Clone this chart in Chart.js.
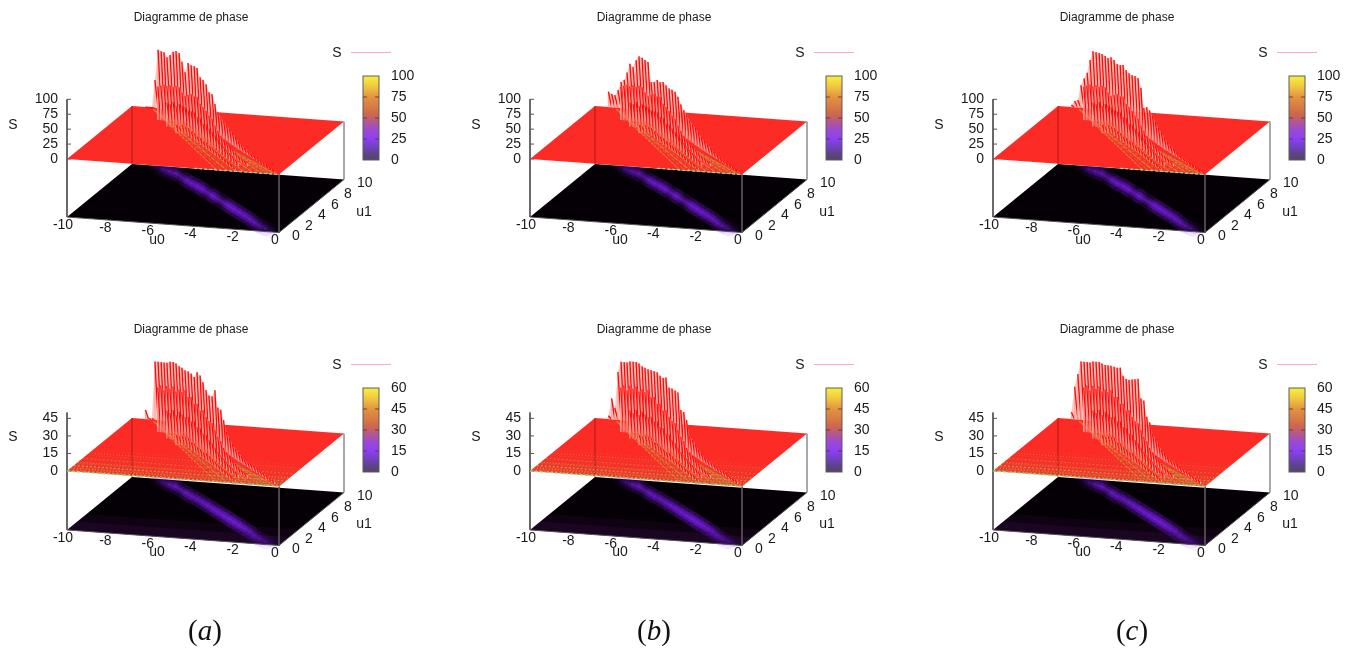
<!DOCTYPE html>
<html>
<head>
<meta charset="utf-8">
<title>Diagramme de phase</title>
<script src="https://cdn.jsdelivr.net/npm/chart.js@4"></script>
<style>
  html, body { margin: 0; padding: 0; background: #fff; overflow: hidden; }
  #page { position: relative; width: 1358px; height: 648px; overflow: hidden; }
  #page canvas { position: absolute; filter: blur(0.6px); }
  .caption { position: absolute; top: 614px; width: 60px; text-align: center; font: 29px "Liberation Serif", serif; color: #111; }
</style>
</head>
<body>
<div id="page"></div>
<script>
// positions of the tall row of spikes, back of the ridge
const backU0 = [-9.35,-9.2,-9.05,-8.9,-8.75,-8.6,-8.46,-8.32,-8.17,-8.02,-7.88,-7.73,-7.59,-7.44,-7.19,-6.94,-6.69,-6.45,-6.2,-5.97,-5.73,-5.5,-5.26,-5.03,-4.79,-4.55,-4.31,-4.07,-3.83,-3.59,-3.35,-3.11,-2.88,-2.65,-2.41,-2.18,-1.95,-1.71,-1.48,-1.25,-1.02,-0.78,-0.55,-0.32];
const backU1 = [9.95,9.95,9.95,9.94,9.93,9.92,9.9,9.89,9.88,9.87,9.85,9.84,9.82,9.8,9.46,9.11,8.77,8.42,8.08,7.77,7.46,7.16,6.85,6.54,6.2,5.87,5.53,5.2,4.86,4.53,4.19,3.86,3.57,3.28,2.99,2.7,2.41,2.12,1.83,1.54,1.25,0.96,0.67,0.38];

// S
const topA = [0,0,0,47,98,96,95,87,91,97,99,96,82,65,84,84,86,87,75,74,70,60,60,47,37,32,29,26,23,20,17,13,10,9,7,5,5,4,4,3,3,2,2,1];
const topB = [26,23,21,30,44,48,61,76,71,83,90,88,85,82,52,56,63,63,67,65,63,64,64,59,50,44,39,34,31,28,25,20,17,14,12,8,7,5,4,4,3,3,2,1];
const topC = [4,11,13,38,50,60,82,97,96,95,94,91,88,90,89,86,88,92,87,85,85,87,87,74,44,49,47,41,35,28,25,20,15,12,10,7,5,5,4,4,3,3,2,1];
const bottomA = [8,1,1,50,50,50,50,50,51,51,50,48,47,45,46,46,45,51,50,46,41,38,39,46,33,33,26,18,14,11,9,8,6,4,4,4,4,4,3,3,3,2,2,2];
const bottomB = [3,18,10,41,50,50,50,51,51,51,50,48,47,46,47,48,49,48,48,50,43,44,44,44,31,31,26,14,13,11,8,7,5,4,4,4,3,3,3,3,2,2,2,2];
const bottomC = [6,28,39,50,50,50,50,51,51,51,50,49,49,49,50,51,53,48,47,48,50,52,54,39,39,27,24,16,14,11,8,7,5,4,4,4,3,3,3,3,2,2,2,2];

// middle row of spikes
const midU0 = [-8.14,-8,-7.85,-7.71,-7.56,-7.41,-7.27,-7.12,-6.98,-6.83,-6.58,-6.33,-6.08,-5.84,-5.59,-5.36,-5.12,-4.89,-4.65,-4.42,-4.18,-3.94,-3.7,-3.46,-3.22,-2.98,-2.74,-2.5,-2.27,-2.04,-1.8];
const midU1 = [7.9,7.9,7.9,7.88,7.87,7.86,7.85,7.84,7.82,7.8,7.46,7.11,6.77,6.42,6.08,5.77,5.46,5.16,4.85,4.54,4.2,3.87,3.53,3.2,2.86,2.53,2.19,1.86,1.57,1.28,0.99];
const midTop = [56,58,60,58,60,58,60,58,50,45,50,55,55,58,50,48,45,40,38,30,25,20,18,16,14,12,10,8,7,6,5];
const midBottom = [38,40,36,40,38,40,36,38,36,38,34,36,32,34,30,32,28,26,26,22,18,16,12,10,9,7,6,5,4,3,3];

// row between the middle and the low one
const innerU0 = [-7.4,-7.25,-7.1,-6.96,-6.81,-6.67,-6.52,-6.27,-6.02,-5.77,-5.53,-5.28,-5.05,-4.81,-4.58,-4.34,-4.11,-3.87,-3.63,-3.39,-3.15,-2.91,-2.67,-2.43,-2.19];
const innerU1 = [6.89,6.88,6.87,6.85,6.84,6.82,6.8,6.46,6.11,5.77,5.42,5.08,4.77,4.46,4.16,3.85,3.54,3.2,2.87,2.53,2.2,1.86,1.53,1.19,0.86];
const innerTop = [40,38,42,36,40,38,36,34,36,38,34,36,30,32,28,26,24,22,18,16,14,12,10,8,6];
const innerBottom = [24,22,25,21,24,22,20,22,20,22,19,20,17,18,15,14,12,10,9,8,7,6,5,4,3];

// low row of spikes in front
const lowU0 = [-6.65,-6.5,-6.36,-6.21,-5.96,-5.71,-5.46,-5.22,-4.97,-4.74,-4.5,-4.27,-4.03,-3.8,-3.56,-3.32,-3.08,-2.84,-2.6,-2.36,-2.12];
const lowU1 = [5.85,5.82,5.8,5.8,5.46,5.11,4.77,4.42,4.08,3.77,3.46,3.16,2.85,2.54,2.2,1.87,1.53,1.2,0.86,0.53,0.19];
const lowTop = [14,12,15,13,14,12,13,11,12,10,11,9,9,8,7,6,5,5,4,3,3];
const lowBottom = [9,8,9,8,9,7,8,7,7,6,7,6,5,5,4,4,3,3,3,2,2];

// map on the floor
const heatU0 = [-8.8,-8.4,-8,-7.6,-7.2,-6.8,-6.4,-6,-5.6,-5.2,-4.8,-4.4,-4,-3.6,-3.2,-2.8,-2.4,-2,-1.6,-1.2,-0.8,-0.4];
const heatU1 = [9.9,9.5,9.2,8.9,8.4,7.9,7.4,7,6.5,6,5.5,5,4.5,4,3.5,3,2.5,2,1.4,0.9,0.5,0.2];
const heatTop = [0.25,0.4,0.5,0.6,0.6,0.65,0.7,0.75,0.8,0.8,0.85,0.85,0.85,0.8,0.75,0.7,0.65,0.6,0.5,0.35,0.25,0.15];
const heatBottom = [0.2,0.35,0.55,0.7,0.7,0.6,0.55,0.6,0.65,0.7,0.75,0.8,0.85,0.9,0.85,0.75,0.6,0.5,0.4,0.3,0.2,0.1];

// brown streaks on the flat part
const fanStartU0 = [-8.9,-8.8,-8.7,-8.5,-8.3,-8.1,-7.8,-7.5,-7.2,-6.9,-6.5,-6.1,-5.6,-5.1,-4.5,-3.8];
const fanStartU1 = [9.7,9.6,9.4,9.2,9.1,8.9,8.6,8.3,8,7.7,7.2,6.8,6.2,5.6,4.9,4.1];
const fanEndU0 = [-3,-2.75,-2.5,-2.3,-2.1,-1.9,-1.7,-1.5,-1.3,-1.1,-0.9,-0.7,-0.55,-0.4,-0.25,-0.1];
const noiseU1 = [0.08,0.2,0.32,0.45,0.6,0.75,0.9,1.05,1.25,1.45,1.65,1.9,2.15,2.4,2.7,3,3.4,3.9];

// axes
const u0Ticks = [-10,-8,-6,-4,-2,0];
const u1Ticks = [0,2,4,6,8,10];
const sTicksTop = [0,25,50,75,100];
const sTicksBottom = [0,15,30,45];
const barTicksTop = [0,25,50,75,100];
const barTicksBottom = [0,15,30,45,60];
const captions = ["a","b","c"];

const panelW = 432, panelH = 312, stepX = 463, stepY = 312;
const font = '"Liberation Sans", Arial, sans-serif';

// gnuplot view, reduced to three screen vectors
function project(u0, u1, s, k) {
  return {
    x: 67 + (u0 + 10) * 21.2 + u1 * 6.5,
    y: 159 + (u0 + 10) * 1.55 - u1 * 5.3 - s * k
  };
}

function spikeLine(u0s, u1s, ss, k, width) {
  const pts = [];
  u0s.forEach((u, i) => {
    pts.push(project(u, u1s[i], 0, k));
    pts.push(project(u, u1s[i], ss[i], k));
  });
  return {
    data: pts, showLine: true, pointRadius: 0, tension: 0, borderWidth: width, borderColor: "#ff1010",
    segment: { borderColor: c => c.p0DataIndex % 2 ? "#ff0808" : "rgba(255,170,160,0.95)" }
  };
}

// pale sheet behind a row of spikes
function spikeSheet(u0s, u1s, ss, k, color) {
  const tips = u0s.map((u, i) => project(u, u1s[i], ss[i], k));
  const feet = u0s.map((u, i) => project(u, u1s[i], 0, k)).reverse();
  return shapeSet(tips.concat(feet), color);
}

function lineSet(pts, color, width, dash) {
  return { data: pts, showLine: true, pointRadius: 0, tension: 0, borderWidth: width, borderColor: color, borderDash: dash || [] };
}

function shapeSet(pts, color) {
  return { data: pts, showLine: true, pointRadius: 0, tension: 0, borderWidth: 0, borderColor: color, backgroundColor: color, fill: "shape" };
}

function makePanel(col, row, tops) {
  const isTop = row === 0;
  const k = isTop ? 0.597 : 1.17;
  const floorS = isTop ? -97.2 : -50.4;
  const sMax = isTop ? 100 : 50;
  const barMax = isTop ? 100 : 60;
  const sTicks = isTop ? sTicksTop : sTicksBottom;
  const barTicks = isTop ? barTicksTop : barTicksBottom;
  const heat = isTop ? heatTop : heatBottom;
  const P = (a, b, s) => project(a, b, s, k);
  const barY = v => 160 - v / barMax * 84;

  const canvas = document.createElement("canvas");
  canvas.width = panelW; canvas.height = panelH;
  canvas.style.left = col * stepX + "px";
  canvas.style.top = row * stepY + "px";
  document.getElementById("page").appendChild(canvas);
  const ctx = canvas.getContext("2d");

  const grad = ctx.createLinearGradient(0, 160, 0, 76);
  [[0,"#544560"],[0.08,"#5e4290"],[0.25,"#8a3ff8"],[0.38,"#9f4cc8"],[0.47,"#b85a80"],[0.56,"#cf6a48"],[0.75,"#e29440"],[0.9,"#f2d040"],[1,"#f8f03c"]]
    .forEach(s => grad.addColorStop(s[0], s[1]));

  const sets = [];
  // floor
  sets.push(shapeSet([P(-10,0,floorS),P(0,0,floorS),P(0,10,floorS),P(-10,10,floorS)], "#050005"));
  if (!isTop) {
    sets.push(shapeSet([P(-10,0,floorS),P(0,0,floorS),P(0,3,floorS),P(-10,3,floorS)], "rgba(70,20,90,0.16)"));
    sets.push(shapeSet([P(-10,0,floorS),P(0,0,floorS),P(0,1.6,floorS),P(-10,1.6,floorS)], "rgba(70,20,90,0.22)"));
  }
  const heatPts = heatU0.map((u, i) => P(u, heatU1[i], floorS));
  [[15,0.2],[8,0.35],[3,0.55]].forEach(w => {
    const s = lineSet(heatPts, "#7a1ee0", w[0]);
    s.borderCapStyle = "round";
    s.segment = { borderColor: c => "rgba(118,30,225," + heat[c.p0DataIndex] * w[1] + ")" };
    sets.push(s);
  });

  // box edges
  const edge = "#555555";
  sets.push(lineSet([P(-10,0,sMax),P(-10,0,floorS),P(0,0,floorS)], edge, 1));
  sets.push(lineSet([P(0,0,0),P(0,0,floorS),P(0,10,floorS),P(0,10,0)], edge, 1));
  sTicks.forEach(t => sets.push(lineSet([P(-10,0,t), {x: P(-10,0,t).x + 4, y: P(-10,0,t).y}], edge, 1)));

  // red surface
  sets.push(shapeSet([P(-10,0,0),P(0,0,0),P(0,10,0),P(-10,10,0)], "#fd2b26"));
  sets.push(lineSet([P(-10,10,0),P(-10,10,floorS)], "rgba(150,20,20,0.3)", 1));

  fanStartU0.forEach((u, i) => {
    sets.push(lineSet([P(u, fanStartU1[i], 0), P(fanEndU0[i], 0.1, 0)], i % 2 ? "rgba(180,120,40,0.85)" : "rgba(235,135,70,0.85)", 1.2, [3 + i % 3, 1 + i % 2]));
  });
  if (!isTop) {
    noiseU1.forEach((v, i) => {
      const a = i < 11 ? 0.8 : 0.45;
      sets.push(lineSet([P(-10,v,0),P(0,v,0)], i % 3 === 1 ? "rgba(250,150,120," + a + ")" : "rgba(170,120,45," + a + ")", 1.1, [1 + i % 2, 1 + i % 3]));
    });
  }

  // spikes, back row first
  sets.push(spikeSheet(backU0, backU1, tops, k, "rgba(255,165,155,0.6)"));
  sets.push(spikeLine(backU0, backU1, tops, k, 1.3));
  sets.push(spikeSheet(midU0, midU1, isTop ? midTop : midBottom, k, "rgba(255,120,110,0.45)"));
  sets.push(spikeLine(midU0, midU1, isTop ? midTop : midBottom, k, 1.2));
  sets.push(spikeLine(innerU0, innerU1, isTop ? innerTop : innerBottom, k, 1.1));
  sets.push(spikeLine(lowU0, lowU1, isTop ? lowTop : lowBottom, k, 1));

  // green underside along the front edge
  sets.push(lineSet(isTop ? [P(-4,0,0),P(0,0,0)] : [P(-10,0,0),P(0,0,0)], "#98d884", 1.3, [3,2]));

  // colour bar
  const bar = lineSet([{x: 371, y: barY(0)}, {x: 371, y: barY(barMax)}], grad, 16);
  bar.borderCapStyle = "butt";
  sets.push(bar);

  sets.forEach((s, i) => { s.order = -i; });

  const labels = {
    id: "labels",
    afterDatasetsDraw(chart) {
      const c = chart.ctx;
      c.save();
      c.fillStyle = "#1a1a1a";
      c.textBaseline = "middle";
      c.textAlign = "center";
      c.font = "12px " + font;
      c.fillText("Diagramme de phase", 191, 18);
      c.font = "14px " + font;
      c.fillText("S", 337, 53);
      c.fillText("S", 13, 125);
      c.fillText("u0", 157, 240);
      c.fillText("u1", 364, 212);
      u0Ticks.forEach(t => {
        const p = P(t, 0, floorS);
        c.fillText(t, p.x - 4, p.y + 8);
      });
      c.textAlign = "left";
      u1Ticks.forEach(t => {
        const p = P(0, t, floorS);
        c.fillText(t, p.x + 13, p.y + 4);
      });
      c.textAlign = "right";
      sTicks.forEach(t => c.fillText(t, 58, P(-10,0,t).y));
      c.textAlign = "left";
      barTicks.forEach(t => c.fillText(t, 391, barY(t)));
      // legend sample
      c.strokeStyle = "#ffa8b8";
      c.lineWidth = 1;
      c.beginPath(); c.moveTo(351, 52.5); c.lineTo(391, 52.5); c.stroke();
      // bar frame and ticks
      c.strokeStyle = "#5c5c5c";
      c.strokeRect(363, 76, 16, 84);
      c.strokeStyle = "rgba(110,40,30,0.8)";
      barTicks.slice(1, -1).forEach(t => {
        c.beginPath();
        c.moveTo(363, barY(t)); c.lineTo(367, barY(t));
        c.moveTo(375, barY(t)); c.lineTo(379, barY(t));
        c.stroke();
      });
      c.restore();
    }
  };

  new Chart(ctx, {
    type: "scatter",
    data: { datasets: sets },
    options: {
      responsive: false,
      animation: false,
      layout: { padding: 0 },
      scales: {
        x: { display: false, min: 0, max: panelW },
        y: { display: false, min: 0, max: panelH, reverse: true }
      },
      plugins: { legend: { display: false }, tooltip: { enabled: false } }
    },
    plugins: [labels]
  });
}

[[topA, topB, topC], [bottomA, bottomB, bottomC]].forEach((rowData, r) => {
  rowData.forEach((tops, c) => makePanel(c, r, tops));
});

[205, 654, 1132].forEach((x, i) => {
  const d = document.createElement("div");
  d.className = "caption";
  d.style.left = x - 30 + "px";
  d.innerHTML = "(<i>" + captions[i] + "</i>)";
  document.getElementById("page").appendChild(d);
});
</script>
</body>
</html>
